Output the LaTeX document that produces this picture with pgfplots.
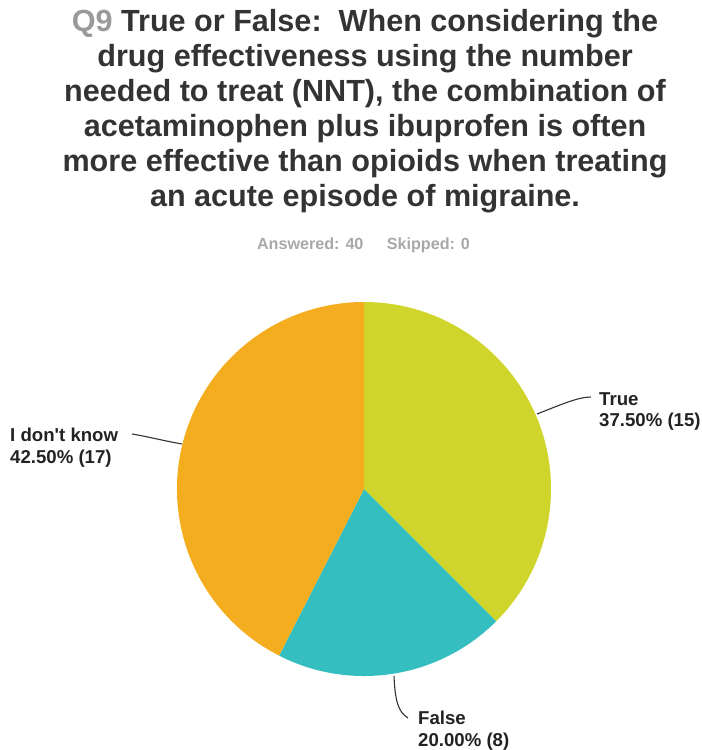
\documentclass[border=0pt]{standalone}
\usepackage{pgfplots}
\pgfplotsset{compat=1.18}
\usepackage{pgfplotstable}
\usepackage{fontspec}
\setmainfont{Liberation Sans}
\definecolor{ctrue}{HTML}{CFD52A}
\definecolor{cfalse}{HTML}{34BEC0}
\definecolor{cidk}{HTML}{F5AD20}
\definecolor{ttl}{HTML}{333333}
\definecolor{qgray}{HTML}{9A9A9A}
\definecolor{sub}{HTML}{A8A8A8}
\definecolor{lbl}{HTML}{222222}

\pgfplotstableread{
label value
True 15
False 8
Idk 17
}\piedata

\begin{document}
\begin{tikzpicture}
\pgfplotstablegetelem{0}{value}\of\piedata \let\vA\pgfplotsretval
\pgfplotstablegetelem{1}{value}\of\piedata \let\vB\pgfplotsretval
\pgfplotstablegetelem{2}{value}\of\piedata \let\vC\pgfplotsretval
\pgfmathsetmacro\total{\vA+\vB+\vC}
\pgfmathsetmacro\aO{90}
\pgfmathsetmacro\aA{90-360*\vA/\total}
\pgfmathsetmacro\aB{\aA-360*\vB/\total}
\pgfmathsetmacro\aC{\aB-360*\vC/\total}
\begin{axis}[
  width=702bp, height=750bp, scale only axis,
  xmin=0, xmax=702, ymin=0, ymax=750, y dir=reverse,
  hide axis, clip=false,
]
\fill[ctrue] (axis cs:364,489) -- ++(\aO:187bp) arc[start angle=\aO, end angle=\aA, radius=187bp] -- cycle;
\fill[cfalse] (axis cs:364,489) -- ++(\aA:187bp) arc[start angle=\aA, end angle=\aB, radius=187bp] -- cycle;
\fill[cidk] (axis cs:364,489) -- ++(\aB:187bp) arc[start angle=\aB, end angle=\aC, radius=187bp] -- cycle;

% leader lines
\draw[ttl, line width=1.1bp] (axis cs:537,414) .. controls (axis cs:560,405) and (axis cs:578,397) .. (axis cs:591,397);
\draw[ttl, line width=1.1bp] (axis cs:182,444) .. controls (axis cs:160,440) and (axis cs:145,436) .. (axis cs:132,434);
\draw[ttl, line width=1.1bp] (axis cs:394,676) .. controls (axis cs:395,700) and (axis cs:398,712) .. (axis cs:408,718);

% title
\begin{scope}[every node/.style={anchor=base, text=ttl, font=\fontsize{30.7}{35}\selectfont\bfseries, inner sep=0pt}]
\node at (axis cs:365,31) {\textcolor{qgray}{Q9} True or False:\ \ When considering the};
\node at (axis cs:365,66) {drug effectiveness using the number};
\node at (axis cs:365,101) {needed to treat (NNT), the combination of};
\node at (axis cs:365,136) {acetaminophen plus ibuprofen is often};
\node at (axis cs:365,171) {more effective than opioids when treating};
\node at (axis cs:365,206) {an acute episode of migraine.};
\end{scope}
\node[anchor=base, text=sub, font=\fontsize{16.2}{18}\selectfont\bfseries, inner sep=0pt] at (axis cs:363.5,249) {Answered: 40\hspace{1.45em}Skipped: 0};

% labels
\begin{scope}[every node/.style={anchor=base west, text=lbl, font=\fontsize{18.7}{21}\selectfont\bfseries, inner sep=0pt}]
\node at (axis cs:599,405) {True};
\node at (axis cs:599,426) {37.50\% (15)};
\node at (axis cs:10,441) {I don\textquotesingle t know};
\node at (axis cs:10,463) {42.50\% (17)};
\node at (axis cs:418,724) {False};
\node at (axis cs:418,746) {20.00\% (8)};
\end{scope}
\end{axis}
\pgfresetboundingbox
\path (0,0) rectangle (702bp,750bp);
\end{tikzpicture}
\end{document}
